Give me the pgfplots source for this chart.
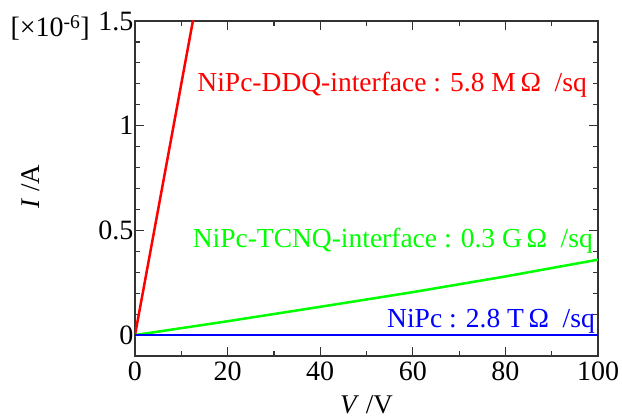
\documentclass[border=0pt]{standalone}
\usepackage{pgfplots}
\pgfplotsset{compat=1.18}
\usepackage{fontspec}
\setmainfont{Liberation Serif}
\begin{document}
\fontsize{28bp}{32bp}\selectfont
\begin{tikzpicture}
\begin{axis}[
  name=ax,
  scale only axis, width=463bp, height=335bp,
  xmin=0, xmax=100, ymin=-0.1, ymax=1.5,
  xtick={0,20,...,100}, minor x tick num=1,
  ytick={0,0.5,1,1.5}, yticklabels={0,0.5,1,1.5}, minor y tick num=4,
  tick align=inside, major tick length=9bp, minor tick length=5bp,
  tick style={line width=1.2bp, black!80},
  axis line style={line width=1.5bp, black!80},
  /pgf/number format/assume math mode=true,
  tick label style={font=\fontsize{28bp}{32bp}\selectfont},
  yticklabel style={inner sep=1.5bp},
  xticklabel style={inner sep=2bp, yshift=-4bp},
  clip=true,
]
\addplot[red, line width=2.5bp] coordinates {(0,0) (13,1.56)};
\addplot[green, line width=2.5bp] coordinates {(0,0) (20,0.066) (40,0.135) (60,0.205) (80,0.28) (100,0.36)};
\addplot[blue, line width=2.7bp] coordinates {(0,0) (100,0)};
\end{axis}
\begin{scope}[font=\fontsize{27.5bp}{32bp}\selectfont]
\node[anchor=base east, red, inner sep=0pt] at ([xshift=-11bp,yshift=-71bp]ax.north east) {NiPc-DDQ-interface : 5.8 M\,Ω\ \ /sq};
\node[anchor=base east, green, inner sep=0pt] at ([xshift=-5bp,yshift=-226bp]ax.north east) {NiPc-TCNQ-interface : 0.3 G\,Ω\ \ /sq};
\node[anchor=base east, blue, inner sep=0pt] at ([xshift=-3bp,yshift=-306bp]ax.north east) {NiPc : 2.8 T\,Ω\ \ /sq};
\end{scope}
\node[anchor=base east, inner sep=0pt, font=\fontsize{28bp}{32bp}\selectfont] at ([xshift=-45bp,yshift=-16bp]ax.north west) {[×10\textsuperscript{-6}]};
\node[anchor=base, inner sep=0pt, font=\fontsize{27bp}{32bp}\selectfont] at ([xshift=-231.5bp,yshift=-57bp]ax.south east) {\textit{V} /V};
\node[rotate=90, inner sep=0pt, font=\fontsize{27bp}{32bp}\selectfont] at ([xshift=-104bp,yshift=2bp]ax.west) {\textit{I} /A};
\path[use as bounding box] ([xshift=-135bp,yshift=-63bp]ax.south west) rectangle ([xshift=24bp,yshift=21bp]ax.north east);
\end{tikzpicture}
\end{document}
